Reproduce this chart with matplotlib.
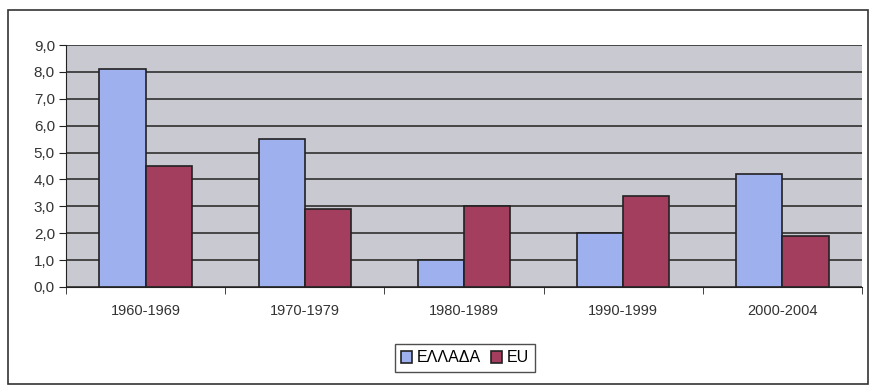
import matplotlib.pyplot as plt
import numpy as np
from matplotlib.patches import Rectangle

periods = ['1960-1969', '1970-1979', '1980-1989', '1990-1999', '2000-2004']
greece = [8.1, 5.5, 1.0, 2.0, 4.2]
eu = [4.5, 2.9, 3.0, 3.4, 1.9]
y_ticks = np.arange(0, 9.01, 1.0)

plt.rcParams['font.family'] = ['Liberation Sans', 'DejaVu Sans']

fig = plt.figure(figsize=(8.75, 3.85), dpi=100)
fig.patch.set_facecolor('white')
# outer frame of the chart
fig.add_artist(Rectangle((8 / 875, 0.002), 860 / 875, 1 - 10 / 385 - 0.002,
                         transform=fig.transFigure, fill=False,
                         edgecolor='#333333', linewidth=1.2))

ax = fig.add_axes([66 / 875, 1 - 287 / 385, (862 - 66) / 875, (287 - 45) / 385])
ax.set_facecolor('#c9c9d1')

x = np.arange(len(periods))
w = 0.29
ax.bar(x - w / 2, greece, w, color='#9fb0ee', edgecolor='#222222',
       linewidth=1.2, label='ΕΛΛΑΔΑ', zorder=3)
ax.bar(x + w / 2, eu, w, color='#a43e5e', edgecolor='#222222',
       linewidth=1.2, label='EU', zorder=3)

ax.set_xlim(-0.5, len(periods) - 0.5)
ax.set_ylim(0, 9)
ax.set_yticks(y_ticks)
ax.set_yticklabels([f'{v:.1f}'.replace('.', ',') for v in y_ticks], fontsize=11, color='#333333')
ax.yaxis.grid(True, color='#222222', linewidth=1.1, zorder=1)

ax.set_xticks(x)
ax.set_xticklabels(periods, fontsize=10.5, color='#333333')
ax.tick_params(axis='x', length=0, pad=12)
ax.set_xticks(np.arange(-0.5, len(periods), 1), minor=True)
ax.tick_params(axis='x', which='minor', length=5, color='#222222')
ax.tick_params(axis='y', length=5, color='#222222', pad=3)

for side in ['top', 'right']:
    ax.spines[side].set_visible(False)
ax.spines['left'].set_color('#222222')
ax.spines['bottom'].set_color('#222222')

leg = fig.legend(loc='center', bbox_to_anchor=(465 / 875, 1 - 358 / 385), ncol=2,
                 frameon=True, fancybox=False, edgecolor='#222222', fontsize=11.5,
                 handlelength=0.7, handleheight=0.7, handletextpad=0.3,
                 columnspacing=0.6, borderpad=0.4)
leg.get_frame().set_linewidth(1.0)

fig.savefig('out.png', dpi=100)
